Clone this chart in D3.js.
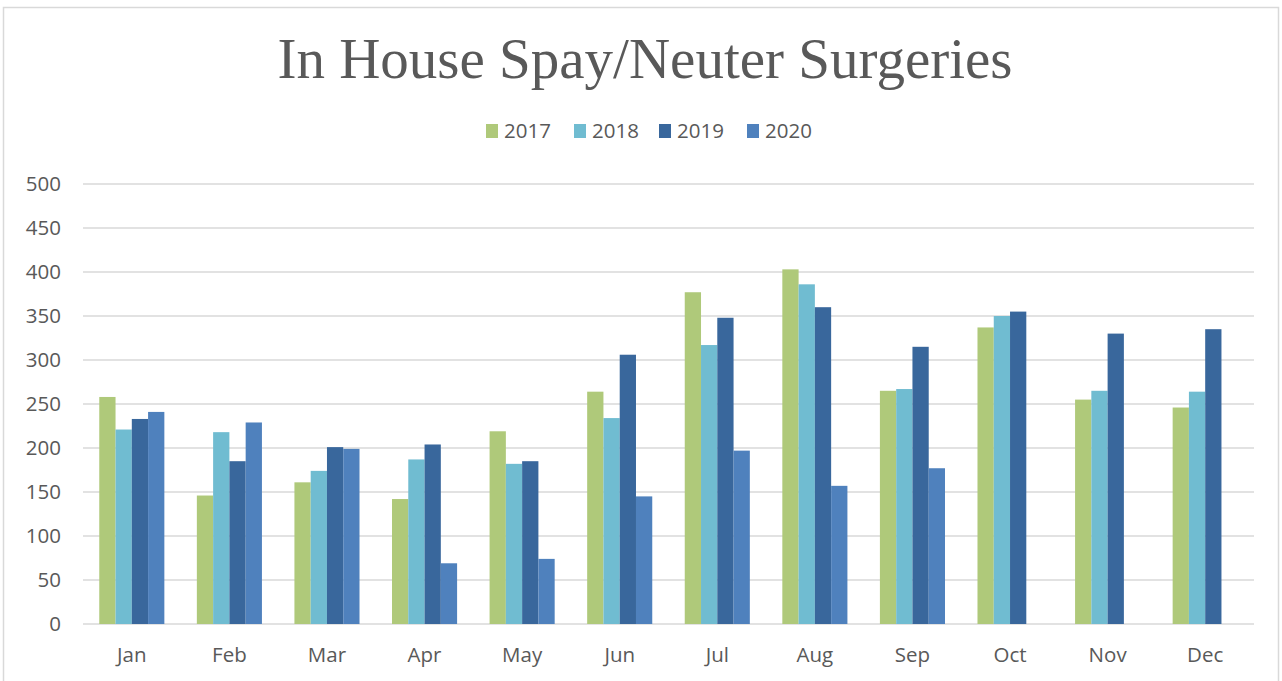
<!DOCTYPE html>
<html>
<head>
<meta charset="utf-8">
<script src="https://cdn.jsdelivr.net/npm/d3@7"></script>
<style>
	body { margin: 0; background: #fff; }
	svg { display: block; }
</style>
</head>
<body>
<div id="chart"></div>
<script>
var months = ["Jan", "Feb", "Mar", "Apr", "May", "Jun", "Jul", "Aug", "Sep", "Oct", "Nov", "Dec"];
var years = ["2017", "2018", "2019", "2020"];
var v2017 = [258, 146, 161, 142, 219, 264, 377, 403, 265, 337, 255, 246];
var v2018 = [221, 218, 174, 187, 182, 234, 317, 386, 267, 350, 265, 264];
var v2019 = [233, 185, 201, 204, 185, 306, 348, 360, 315, 355, 330, 335];
var v2020 = [241, 229, 199, 69, 74, 145, 197, 157, 177, null, null, null];
var yTicks = [0, 50, 100, 150, 200, 250, 300, 350, 400, 450, 500];

var colors = ["#afc97a", "#70bcd1", "#39679c", "#4f81bd"];
var series = [v2017, v2018, v2019, v2020];

var width = 1282, height = 681;
var margin = {left: 83, right: 28, top: 184, bottom: 57};
var textColor = "#595959";
var fontSize = 20.5;

var svg = d3.select("#chart").append("svg")
	.attr("width", width).attr("height", height);

// chart area border
svg.append("rect")
	.attr("x", 3.5).attr("y", 7.5)
	.attr("width", 1275).attr("height", 690)
	.attr("fill", "none").attr("stroke", "#d9d9d9").attr("stroke-width", 1.5);

var x = d3.scaleBand().domain(months)
	.range([margin.left, width - margin.right])
	.paddingInner(0.333).paddingOuter(0.1667);
var xs = d3.scaleBand().domain(years).range([0, x.bandwidth()]);
var y = d3.scaleLinear().domain([0, 500]).range([height - margin.bottom, margin.top]);

// grid
svg.append("g").selectAll("line").data(yTicks).enter().append("line")
	.attr("x1", margin.left).attr("x2", width - margin.right)
	.attr("y1", function(d) { return y(d); }).attr("y2", function(d) { return y(d); })
	.attr("stroke", "#d9d9d9").attr("stroke-width", 1.5);

// y axis labels
var yAxis = svg.append("g")
	.attr("transform", "translate(" + (margin.left - 22) + ",0)")
	.call(d3.axisLeft(y).tickValues(yTicks).tickSize(0).tickPadding(0));
yAxis.select(".domain").remove();
yAxis.selectAll("text")
	.style("font-family", "'Open Sans', sans-serif").style("font-size", fontSize + "px")
	.attr("fill", textColor);

// bars
var data = [];
months.forEach(function(m, i) {
	years.forEach(function(yr, j) {
		if (series[j][i] != null) data.push({month: m, year: yr, value: series[j][i], idx: j});
	});
});

svg.append("g").selectAll("rect").data(data).enter().append("rect")
	.attr("x", function(d) { return x(d.month) + xs(d.year); })
	.attr("width", xs.bandwidth())
	.attr("y", function(d) { return y(d.value); })
	.attr("height", function(d) { return y(0) - y(d.value); })
	.attr("fill", function(d) { return colors[d.idx]; });

// x axis labels
var xAxis = svg.append("g")
	.attr("transform", "translate(0," + (height - margin.bottom) + ")")
	.call(d3.axisBottom(x).tickSize(0).tickPadding(23));
xAxis.select(".domain").remove();
xAxis.selectAll("text")
	.style("font-family", "'Open Sans', sans-serif").style("font-size", fontSize + "px")
	.attr("fill", textColor);

// title
svg.append("text")
	.attr("x", 645).attr("y", 78)
	.attr("text-anchor", "middle")
	.style("font-family", "'Liberation Serif', serif").style("font-size", "57px")
	.attr("fill", textColor)
	.text("In House Spay/Neuter Surgeries");

// legend
var legendX = [486, 574, 659, 747];
var legend = svg.append("g").selectAll("g").data(years).enter().append("g")
	.attr("transform", function(d, i) { return "translate(" + legendX[i] + ",124)"; });
legend.append("rect")
	.attr("width", 12).attr("height", 14)
	.attr("fill", function(d, i) { return colors[i]; });
legend.append("text")
	.attr("x", 18).attr("y", 14)
	.style("font-family", "'Open Sans', sans-serif").style("font-size", fontSize + "px")
	.attr("fill", textColor)
	.text(function(d) { return d; });
</script>
</body>
</html>
